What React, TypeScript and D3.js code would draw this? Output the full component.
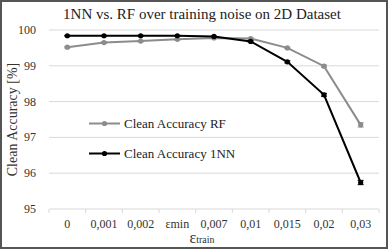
import React from "react";
import * as d3 from "d3";

const categories = ["0", "0,001", "0,002", "εmin", "0,007", "0,01", "0,015", "0,02", "0,03"];
const rfValues = [99.52, 99.65, 99.69, 99.74, 99.78, 99.76, 99.5, 98.99, 97.35];
const rfErrors = [0.02, 0.02, 0.02, 0.02, 0.02, 0.02, 0.02, 0.03, 0.06];
const nnValues = [99.84, 99.84, 99.84, 99.84, 99.82, 99.68, 99.11, 98.19, 95.74];
const nnErrors = [0.01, 0.01, 0.01, 0.01, 0.01, 0.02, 0.03, 0.04, 0.06];
const yTicks = [95, 96, 97, 98, 99, 100];

const W = 388;
const H = 251;
const margin = { top: 30, right: 9, bottom: 42, left: 49 };
const font = "Liberation Serif, DejaVu Serif, serif";

const series = [
  { name: "Clean Accuracy RF", values: rfValues, errors: rfErrors, color: "#8c8c8c" },
  { name: "Clean Accuracy 1NN", values: nnValues, errors: nnErrors, color: "#000000" },
];

export default function App() {
  const x = d3
    .scaleBand<string>()
    .domain(categories)
    .range([margin.left, W - margin.right])
    .padding(0);
  const y = d3
    .scaleLinear()
    .domain([95, 100])
    .range([H - margin.bottom, margin.top]);

  const cx = (i: number) => (x(categories[i]) ?? 0) + x.bandwidth() / 2;
  const line = d3
    .line<number>()
    .x((_, i) => cx(i))
    .y((d) => y(d));

  return (
    <svg
      width={W}
      height={H}
      style={{ position: "absolute", left: 0, top: 0, display: "block", background: "#fff", fontFamily: font }}
    >
      <rect x={1} y={1} width={W - 2} height={H - 4} fill="#fff" stroke="#555" strokeWidth={2} />
      <text x={202} y={19} textAnchor="middle" fontSize={15} fill="#222">
        1NN vs. RF over training noise on 2D Dataset
      </text>

      {yTicks.map((t) => (
        <g key={t}>
          {t !== 95 && (
            <line x1={margin.left} x2={W - margin.right} y1={y(t)} y2={y(t)} stroke="#d9d9d9" strokeWidth={1} />
          )}
          <text x={36} y={y(t) + 4} textAnchor="end" fontSize={12} fill="#333">
            {t}
          </text>
        </g>
      ))}

      <line x1={margin.left} x2={W - margin.right} y1={y(95)} y2={y(95)} stroke="#d9d9d9" strokeWidth={1} />
      {categories.map((c) => (
        <line key={"t" + c} x1={x(c)} x2={x(c)} y1={y(95)} y2={y(95) + 4} stroke="#d9d9d9" strokeWidth={1} />
      ))}
      <line x1={W - margin.right} x2={W - margin.right} y1={y(95)} y2={y(95) + 4} stroke="#d9d9d9" strokeWidth={1} />
      {categories.map((c, i) => (
        <text key={"l" + c} x={cx(i)} y={y(95) + 19} textAnchor="middle" fontSize={12} fill="#333">
          {c}
        </text>
      ))}

      <text x={202} y={243} textAnchor="middle" fontSize={16} fill="#333">
        ε<tspan fontSize={10}>train</tspan>
      </text>
      <text
        transform={`translate(17,${(margin.top + H - margin.bottom) / 2}) rotate(-90)`}
        textAnchor="middle"
        fontSize={14}
        fill="#333"
      >
        Clean Accuracy [%]
      </text>

      {series.map((s) => (
        <g key={s.name}>
          <path d={line(s.values) ?? ""} fill="none" stroke={s.color} strokeWidth={2} />
          {s.values.map((v, i) => (
            <g key={i}>
              <line x1={cx(i)} x2={cx(i)} y1={y(v - s.errors[i])} y2={y(v + s.errors[i])} stroke={s.color} strokeWidth={1} />
              <line x1={cx(i) - 3} x2={cx(i) + 3} y1={y(v - s.errors[i])} y2={y(v - s.errors[i])} stroke={s.color} strokeWidth={1} />
              <line x1={cx(i) - 3} x2={cx(i) + 3} y1={y(v + s.errors[i])} y2={y(v + s.errors[i])} stroke={s.color} strokeWidth={1} />
              <circle cx={cx(i)} cy={y(v)} r={2.6} fill={s.color} />
            </g>
          ))}
        </g>
      ))}

      {series.map((s, k) => {
        const ly = k === 0 ? 123.5 : 153.5;
        return (
          <g key={"leg" + s.name}>
            <line x1={89} x2={120} y1={ly} y2={ly} stroke={s.color} strokeWidth={2} />
            <circle cx={104.5} cy={ly} r={2.6} fill={s.color} />
            <text x={124} y={ly + 4.5} fontSize={13} fill="#222">
              {s.name}
            </text>
          </g>
        );
      })}
    </svg>
  );
}
